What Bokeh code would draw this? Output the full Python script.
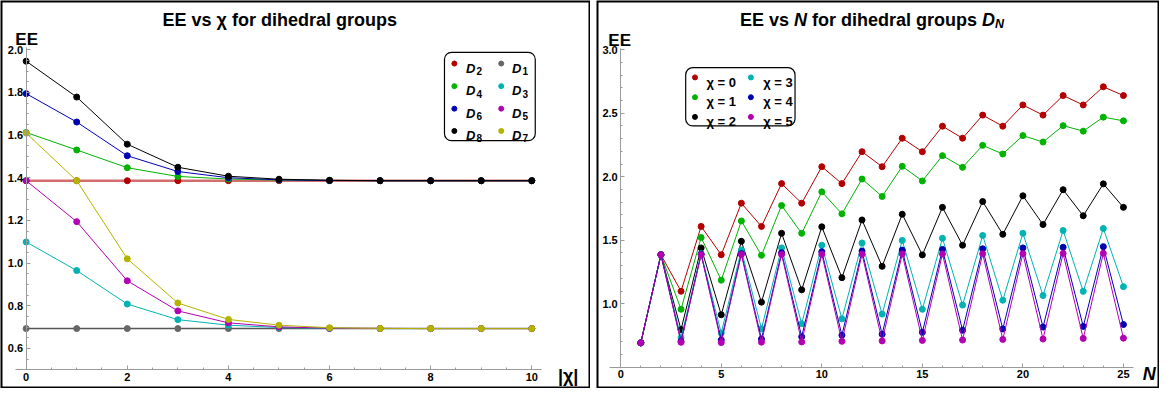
from bokeh.plotting import figure
from bokeh.models import Range1d, FixedTicker, Label, BoxAnnotation, NumeralTickFormatter
from bokeh.layouts import row
from bokeh.embed import file_html
from bokeh.resources import INLINE

FONT = "Liberation Sans"

# ---------------- data: left panel, EE vs |chi| ----------------
chi_vals = [0, 1, 2, 3, 4, 5, 6, 7, 8, 9, 10]
ee_D2 = [1.386, 1.386, 1.386, 1.386, 1.386, 1.386, 1.386, 1.386, 1.386, 1.386, 1.386]
ee_D1 = [0.693, 0.693, 0.693, 0.693, 0.693, 0.693, 0.693, 0.693, 0.693, 0.693, 0.693]
ee_D4 = [1.612, 1.530, 1.447, 1.406, 1.394, 1.389, 1.387, 1.386, 1.386, 1.386, 1.386]
ee_D3 = [1.099, 0.965, 0.808, 0.735, 0.709, 0.698, 0.694, 0.693, 0.693, 0.693, 0.693]
ee_D6 = [1.794, 1.661, 1.503, 1.429, 1.400, 1.390, 1.387, 1.386, 1.386, 1.386, 1.386]
ee_D5 = [1.386, 1.194, 0.917, 0.776, 0.720, 0.701, 0.695, 0.694, 0.693, 0.693, 0.693]
ee_D8 = [1.946, 1.778, 1.557, 1.449, 1.407, 1.393, 1.388, 1.386, 1.386, 1.386, 1.386]
ee_D7 = [1.609, 1.386, 1.020, 0.813, 0.736, 0.709, 0.697, 0.694, 0.693, 0.693, 0.693]

left_names = ["2", "1", "4", "3", "6", "5", "8", "7"]
left_series = [ee_D2, ee_D1, ee_D4, ee_D3, ee_D6, ee_D5, ee_D8, ee_D7]
left_colors = ["#b30000", "#666666", "#00b300", "#00b3b3", "#0000b3", "#b300b3", "#000000", "#b3b300"]
left_xticks = [0, 2, 4, 6, 8, 10]
left_yticks = [0.6, 0.8, 1.0, 1.2, 1.4, 1.6, 1.8, 2.0]

# ---------------- data: right panel, EE vs N ----------------
N_vals = [1, 2, 3, 4, 5, 6, 7, 8, 9, 10, 11, 12, 13, 14, 15, 16, 17, 18, 19, 20, 21, 22, 23, 24, 25]
ee_chi0 = [0.693, 1.386, 1.099, 1.609, 1.386, 1.792, 1.609, 1.946, 1.792, 2.079, 1.946, 2.197, 2.079,
           2.303, 2.197, 2.398, 2.303, 2.485, 2.398, 2.565, 2.485, 2.639, 2.565, 2.708, 2.639]
ee_chi1 = [0.693, 1.386, 0.957, 1.522, 1.186, 1.652, 1.382, 1.774, 1.555, 1.881, 1.708, 1.982, 1.845,
           2.082, 1.967, 2.166, 2.074, 2.247, 2.179, 2.324, 2.273, 2.402, 2.359, 2.469, 2.440]
ee_chi2 = [0.693, 1.386, 0.797, 1.440, 0.914, 1.492, 1.013, 1.555, 1.110, 1.606, 1.206, 1.660, 1.295,
           1.705, 1.385, 1.759, 1.461, 1.805, 1.547, 1.850, 1.624, 1.898, 1.693, 1.944, 1.759]
ee_chi3 = [0.693, 1.386, 0.733, 1.395, 0.770, 1.423, 0.804, 1.440, 0.843, 1.461, 0.882, 1.479, 0.919,
           1.499, 0.957, 1.516, 0.990, 1.538, 1.028, 1.555, 1.065, 1.577, 1.098, 1.593, 1.135]
ee_chi4 = [0.693, 1.386, 0.705, 1.390, 0.715, 1.395, 0.723, 1.402, 0.741, 1.410, 0.753, 1.415, 0.761,
           1.423, 0.776, 1.428, 0.792, 1.433, 0.802, 1.440, 0.817, 1.445, 0.822, 1.450, 0.837]
ee_chi5 = [0.693, 1.386, 0.697, 1.387, 0.695, 1.388, 0.698, 1.389, 0.700, 1.390, 0.705, 1.391, 0.708,
           1.392, 0.712, 1.393, 0.715, 1.394, 0.720, 1.395, 0.723, 1.396, 0.728, 1.397, 0.730]

right_names = ["χ = 0", "χ = 1", "χ = 2", "χ = 3", "χ = 4", "χ = 5"]
right_series = [ee_chi0, ee_chi1, ee_chi2, ee_chi3, ee_chi4, ee_chi5]
right_colors = ["#b30000", "#00b300", "#000000", "#00b3b3", "#0000b3", "#b300b3"]
right_xticks = [0, 5, 10, 15, 20, 25]
right_yticks = [1.0, 1.5, 2.0, 2.5, 3.0]

# Arial/Liberation Sans Bold advance widths (em) for placing title pieces
ADV = {'E': .667, ' ': .278, 'v': .556, 's': .556, 'N': .722, 'f': .333, 'o': .611, 'r': .389,
       'd': .611, 'i': .278, 'h': .611, 'e': .556, 'a': .556, 'l': .278, 'g': .611, 'u': .611,
       'p': .611, 'D': .722}


def text_w(t, size):
    return sum(ADV.get(c, .6) for c in t) * size


AX_COL = "#9a9a9a"


def make_fig(w, h, xr, yr, xb, yb):
    p = figure(width=w, height=h, x_range=Range1d(*xr), y_range=Range1d(*yr),
               output_backend="svg", toolbar_location=None, tools="", min_border=0)
    p.grid.visible = False
    p.outline_line_color = None
    p.background_fill_color = "white"
    p.border_fill_color = "white"
    for ax in p.axis:
        ax.axis_line_color = AX_COL
        ax.axis_line_width = 1
        ax.major_tick_line_color = AX_COL
        ax.minor_tick_line_color = AX_COL
        ax.major_tick_in = 4
        ax.major_tick_out = 0
        ax.minor_tick_in = 2
        ax.minor_tick_out = 0
        ax.major_label_text_font = FONT
        ax.major_label_text_font_style = "bold"
        ax.major_label_text_font_size = "11px"
        ax.major_label_text_color = "black"
        ax.major_label_standoff = 3
    p.yaxis.fixed_location = 0
    p.xaxis.fixed_location = yb[0]
    p.xaxis.bounds = xb
    p.yaxis.bounds = yb
    # panel frame
    p.add_layout(BoxAnnotation(fill_color=None, fill_alpha=0, line_color="black",
                               line_alpha=1, line_width=4))
    return p


def lab(p, x, y, text, size, style="bold", align="left", baseline="alphabetic", xo=0, yo=0):
    p.add_layout(Label(x=x, y=y, text=text, text_font=FONT, text_font_size=f"{size}px",
                       text_font_style=style, text_align=align, text_baseline=baseline,
                       x_offset=xo, y_offset=yo, text_color="black"))


# reference-pixel -> data helpers (layout only)
def lxd(px):
    return (px - 26.0) / 51.25


def lyd(py):
    return 2.0 - (py - 50.7) / 220.0


def rxd(px_abs):
    return (px_abs - 603 - 24.5) / 20.36


def ryd(py):
    return 1.0 + (312.7 - py) / 131.0


# ============ left figure ============
W1, H = 590, 388
fx1, fy = W1 / 598.0, H / 400.0
p1 = make_fig(W1, H, (lxd(0), lxd(W1 / fx1)), (lyd(H / fy), lyd(0)), (-0.22, 10.2), (0.5, 2.01))
p1.xaxis.ticker = FixedTicker(ticks=left_xticks, minor_ticks=[i * 0.5 for i in range(21)])
p1.yaxis.ticker = FixedTicker(ticks=left_yticks, minor_ticks=[0.5 + 0.05 * i for i in range(31)])
p1.yaxis.formatter = NumeralTickFormatter(format="0.0")

for name, ys, col in zip(left_names, left_series, left_colors):
    if name == "2":
        p1.line(chi_vals, ys, line_color="#d46e6e", line_width=2.5)
    elif name == "1":
        p1.line(chi_vals, ys, line_color="#555555", line_width=1.5)
    else:
        p1.line(chi_vals, ys, line_color=col, line_width=1)
    p1.scatter(chi_vals, ys, size=6, fill_color=col, line_color=col)

lab(p1, lxd(283), lyd(20), "EE vs χ for dihedral groups", 18, align="center")
lab(p1, lxd(15), lyd(40), "EE", 17)
lab(p1, lxd(565), lyd(387), "|χ|", 18)

# legend (left)
p1.add_layout(BoxAnnotation(left=lxd(450), right=lxd(542), top=lyd(53.5), bottom=lyd(144.5),
                            fill_color=None, fill_alpha=0, line_color="black", line_alpha=1,
                            line_width=1.2, border_radius=7))
rows_y = [65, 88.3, 111.5, 134.5]
leg_x = [(460, 471.7), (507.5, 518.5)]
for k, (name, col) in enumerate(zip(left_names, left_colors)):
    r, c = k // 2, k % 2
    yy = lyd(rows_y[r])
    p1.scatter([lxd(leg_x[c][0])], [yy], size=5, fill_color=col, line_color=col)
    lab(p1, lxd(leg_x[c][1]), yy, "D", 13, style="bold italic", yo=-4.7)
    lab(p1, lxd(leg_x[c][1]), yy, name, 10, style="bold", xo=10.5, yo=-7.5)

# ============ right figure ============
W2 = 563
fx2 = W2 / 570.0
p2 = make_fig(W2, H, (rxd(603), rxd(603 + W2 / fx2)), (ryd(H / fy), ryd(0)), (-0.54, 25.5), (0.5, 3.01))
p2.xaxis.ticker = FixedTicker(ticks=right_xticks, minor_ticks=list(range(26)))
p2.yaxis.ticker = FixedTicker(ticks=right_yticks, minor_ticks=[0.5 + 0.1 * i for i in range(26)])
p2.yaxis.formatter = NumeralTickFormatter(format="0.0")

for name, ys, col in zip(right_names, right_series, right_colors):
    p2.line(N_vals, ys, line_color=col, line_width=1)
    p2.scatter(N_vals, ys, size=6, fill_color=col, line_color=col)

# title assembled from pieces: (drawn text, advance incl. following space, size, style, dy)
TS = 18
SUB = 12.5
pieces = [("EE vs", "EE vs ", TS, "bold", 0), ("N", "N ", TS, "bold italic", 0),
          ("for dihedral groups", "for dihedral groups ", TS, "bold", 0),
          ("D", "D", TS, "bold italic", 0), ("N", "N", SUB, "bold italic", -4)]
total = sum(text_w(a, s) for _, a, s, _, _ in pieces)
off = -total / 2
for t, a, s, st, dy in pieces:
    lab(p2, rxd(882), ryd(20), t, s, style=st, xo=off, yo=dy)
    off += text_w(a, s)

lab(p2, rxd(615), ryd(41.7), "EE", 17)
lab(p2, rxd(1156), ryd(385), "N", 18, style="bold italic")

# legend (right)
p2.add_layout(BoxAnnotation(left=rxd(693.3), right=rxd(804), top=ryd(69.3), bottom=ryd(129.3),
                            fill_color=None, fill_alpha=0, line_color="black", line_alpha=1,
                            line_width=1.2, border_radius=7))
r_rows = [79.3, 99.7, 120]
r_cols = [(702.7, 714.3), (759.3, 771.7)]
for k, (name, col) in enumerate(zip(right_names, right_colors)):
    c, r = k // 3, k % 3
    yy = ryd(r_rows[r])
    p2.scatter([rxd(r_cols[c][0])], [yy], size=5, fill_color=col, line_color=col)
    lab(p2, rxd(r_cols[c][1]), yy, name, 13, yo=-4.6)

layout = row(p1, p2, spacing=6)
open("out.html", "w").write(file_html(layout, INLINE))
